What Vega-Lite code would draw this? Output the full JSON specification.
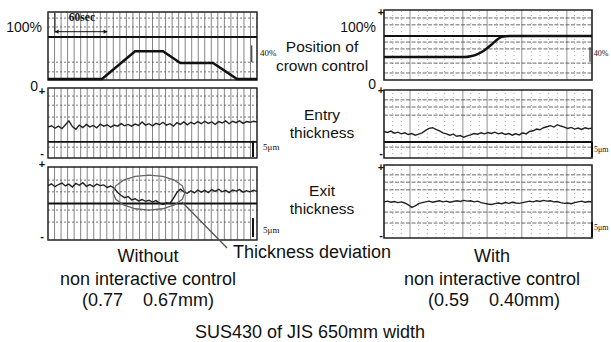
{
"$schema": "https://vega.github.io/schema/vega-lite/v6.json",
"width": 611, "height": 342, "autosize": {"type": "none"}, "padding": 0,
"background": "white",
"config": {"view": {"stroke": null}, "font": "Liberation Sans", "text": {"font": "Liberation Sans", "color": "#111"}},
"data": {"values": [{}]},
"datasets": {
"vL": [{"t":0},{"t":7.5},{"t":15},{"t":22.5},{"t":30},{"t":37.5},{"t":45},{"t":52.5},{"t":60},{"t":67.5},{"t":75},{"t":82.5},{"t":90},{"t":97.5},{"t":105},{"t":112.5},{"t":120},{"t":127.5},{"t":135},{"t":142.5},{"t":150},{"t":157.5},{"t":165},{"t":172.5},{"t":180},{"t":187.5},{"t":195},{"t":202.5},{"t":210},{"t":217.5},{"t":225},{"t":232.5},{"t":240}],
"vR": [{"t":30},{"t":91},{"t":119},{"t":159},{"t":211}],
"vRd": [{"t":10},{"t":20},{"t":40},{"t":50},{"t":60},{"t":70},{"t":80},{"t":100},{"t":110},{"t":130},{"t":140},{"t":150},{"t":170},{"t":180},{"t":190},{"t":200},{"t":220},{"t":230}],
"hL1": [{"v":145},{"v":124},{"v":40},{"v":17}],
"hL2": [{"v":7.7},{"v":5.1},{"v":1.7},{"v":-6.9}],
"hL3": [{"v":6.4},{"v":3.2},{"v":-1.8},{"v":-5.1}],
"hR1": [{"v":142},{"v":126},{"v":86},{"v":70},{"v":37},{"v":14}],
"hR2": [{"v":7.1},{"v":5},{"v":2.6},{"v":-6.8}],
"hR3": [{"v":7.3},{"v":5.3},{"v":3.2},{"v":-2.9},{"v":-5.9}],
"posL": [{"t":0,"v":0},{"t":62,"v":0},{"t":100,"v":66},{"t":132,"v":66},{"t":152,"v":38},{"t":189.5,"v":38},{"t":217,"v":0},{"t":240,"v":0}],
"posR": [{"t":0,"v":51},{"t":93,"v":51},{"t":100,"v":53},{"t":108,"v":58},{"t":116,"v":67},{"t":124,"v":80},{"t":130,"v":91},{"t":136,"v":98},{"t":145,"v":100},{"t":240,"v":100}],
"entryL": [{"t":0,"v":-1.2},{"t":4,"v":-0.8},{"t":8,"v":-1.5},{"t":12,"v":-0.9},{"t":16,"v":-1.6},{"t":20,"v":-0.5},{"t":24,"v":0.6},{"t":28,"v":-1.0},{"t":32,"v":-1.8},{"t":36,"v":-0.6},{"t":40,"v":-1.3},{"t":44,"v":-0.4},{"t":48,"v":-1.1},{"t":52,"v":-0.7},{"t":56,"v":-1.4},{"t":60,"v":-0.3},{"t":64,"v":-0.9},{"t":68,"v":-0.5},{"t":72,"v":-1.2},{"t":76,"v":-0.6},{"t":80,"v":-0.9},{"t":84,"v":-0.2},{"t":88,"v":-0.8},{"t":92,"v":-0.4},{"t":96,"v":-0.9},{"t":100,"v":-0.3},{"t":104,"v":-0.7},{"t":108,"v":0.3},{"t":112,"v":-0.6},{"t":116,"v":-0.2},{"t":120,"v":-0.8},{"t":124,"v":-0.1},{"t":128,"v":-0.5},{"t":132,"v":0.2},{"t":136,"v":-0.6},{"t":140,"v":-0.2},{"t":144,"v":-0.9},{"t":148,"v":0.1},{"t":152,"v":-0.4},{"t":156,"v":0.3},{"t":160,"v":-0.5},{"t":164,"v":0.2},{"t":168,"v":-0.3},{"t":172,"v":0.4},{"t":176,"v":-0.2},{"t":180,"v":0.5},{"t":184,"v":-0.1},{"t":188,"v":0.3},{"t":192,"v":-0.4},{"t":196,"v":0.4},{"t":200,"v":0.0},{"t":204,"v":0.6},{"t":208,"v":-0.2},{"t":212,"v":0.5},{"t":216,"v":0.1},{"t":220,"v":0.6},{"t":224,"v":-0.1},{"t":228,"v":0.4},{"t":232,"v":0.2},{"t":236,"v":0.5},{"t":240,"v":0.3}],
"exitL": [{"t":0,"v":4.9},{"t":4,"v":5.4},{"t":8,"v":4.6},{"t":12,"v":5.2},{"t":16,"v":5.6},{"t":20,"v":4.8},{"t":24,"v":5.3},{"t":28,"v":4.5},{"t":32,"v":5.5},{"t":36,"v":5.0},{"t":40,"v":5.7},{"t":44,"v":4.7},{"t":48,"v":5.2},{"t":52,"v":4.6},{"t":56,"v":5.3},{"t":60,"v":4.9},{"t":64,"v":5.1},{"t":68,"v":4.4},{"t":72,"v":4.8},{"t":76,"v":4.2},{"t":80,"v":3.0},{"t":84,"v":2.2},{"t":88,"v":1.6},{"t":92,"v":1.9},{"t":96,"v":1.0},{"t":100,"v":1.3},{"t":104,"v":0.7},{"t":108,"v":1.1},{"t":112,"v":0.6},{"t":116,"v":0.9},{"t":120,"v":0.4},{"t":124,"v":0.8},{"t":128,"v":0.1},{"t":132,"v":-0.3},{"t":136,"v":0.2},{"t":140,"v":0.0},{"t":144,"v":1.4},{"t":148,"v":3.0},{"t":152,"v":3.9},{"t":156,"v":3.2},{"t":160,"v":2.8},{"t":164,"v":3.5},{"t":168,"v":2.9},{"t":172,"v":3.7},{"t":176,"v":3.1},{"t":180,"v":3.6},{"t":184,"v":3.0},{"t":188,"v":3.8},{"t":192,"v":3.3},{"t":196,"v":3.9},{"t":200,"v":3.2},{"t":204,"v":3.6},{"t":208,"v":3.0},{"t":212,"v":3.7},{"t":216,"v":3.4},{"t":220,"v":3.8},{"t":224,"v":3.1},{"t":228,"v":3.5},{"t":232,"v":3.2},{"t":236,"v":3.6},{"t":240,"v":3.3}],
"entryR": [{"t":0,"v":-2.2},{"t":4,"v":-2.5},{"t":8,"v":-2.1},{"t":12,"v":-2.7},{"t":16,"v":-2.4},{"t":20,"v":-2.9},{"t":24,"v":-2.6},{"t":28,"v":-3.1},{"t":32,"v":-2.8},{"t":36,"v":-3.3},{"t":40,"v":-3.0},{"t":44,"v":-2.6},{"t":48,"v":-1.9},{"t":52,"v":-1.3},{"t":56,"v":-1.1},{"t":60,"v":-1.6},{"t":64,"v":-2.0},{"t":68,"v":-2.6},{"t":72,"v":-2.9},{"t":76,"v":-3.3},{"t":80,"v":-3.0},{"t":84,"v":-3.6},{"t":88,"v":-3.4},{"t":92,"v":-3.9},{"t":96,"v":-3.5},{"t":100,"v":-3.2},{"t":104,"v":-2.8},{"t":108,"v":-3.0},{"t":112,"v":-2.6},{"t":116,"v":-2.9},{"t":120,"v":-2.5},{"t":124,"v":-2.8},{"t":128,"v":-2.4},{"t":132,"v":-2.9},{"t":136,"v":-2.6},{"t":140,"v":-3.1},{"t":144,"v":-2.8},{"t":148,"v":-3.3},{"t":152,"v":-2.9},{"t":156,"v":-3.2},{"t":160,"v":-2.6},{"t":164,"v":-2.9},{"t":168,"v":-2.2},{"t":172,"v":-2.0},{"t":176,"v":-1.5},{"t":180,"v":-1.7},{"t":184,"v":-1.1},{"t":188,"v":-0.8},{"t":192,"v":-0.5},{"t":196,"v":-0.9},{"t":200,"v":-0.2},{"t":204,"v":-0.6},{"t":208,"v":-0.9},{"t":212,"v":-1.3},{"t":216,"v":-1.0},{"t":220,"v":-1.5},{"t":224,"v":-1.2},{"t":228,"v":-1.6},{"t":232,"v":-1.1},{"t":236,"v":-1.4},{"t":240,"v":-1.2}],
"exitR": [{"t":0,"v":-0.1},{"t":4,"v":0.1},{"t":8,"v":-0.2},{"t":12,"v":0.0},{"t":16,"v":-0.3},{"t":20,"v":-0.1},{"t":24,"v":-0.4},{"t":28,"v":-0.9},{"t":32,"v":-1.6},{"t":36,"v":-1.2},{"t":40,"v":-0.6},{"t":44,"v":-0.3},{"t":48,"v":-0.1},{"t":52,"v":0.1},{"t":56,"v":-0.2},{"t":60,"v":0.0},{"t":64,"v":0.2},{"t":68,"v":-0.1},{"t":72,"v":0.1},{"t":76,"v":-0.2},{"t":80,"v":0.0},{"t":84,"v":0.2},{"t":88,"v":0.0},{"t":92,"v":0.3},{"t":96,"v":0.1},{"t":100,"v":0.2},{"t":104,"v":-0.1},{"t":108,"v":0.1},{"t":112,"v":-0.3},{"t":116,"v":-0.5},{"t":120,"v":-0.7},{"t":124,"v":-0.8},{"t":128,"v":-0.6},{"t":132,"v":-0.4},{"t":136,"v":-0.6},{"t":140,"v":-0.3},{"t":144,"v":-0.5},{"t":148,"v":-0.2},{"t":152,"v":-0.4},{"t":156,"v":-0.5},{"t":160,"v":-0.3},{"t":164,"v":-0.1},{"t":168,"v":0.1},{"t":172,"v":-0.1},{"t":176,"v":0.2},{"t":180,"v":0.0},{"t":184,"v":0.3},{"t":188,"v":0.1},{"t":192,"v":0.2},{"t":196,"v":-0.1},{"t":200,"v":0.0},{"t":204,"v":-0.3},{"t":208,"v":-0.5},{"t":212,"v":-0.4},{"t":216,"v":-0.6},{"t":220,"v":-0.3},{"t":224,"v":-0.1},{"t":228,"v":0.1},{"t":232,"v":-0.2},{"t":236,"v":0.0},{"t":240,"v":-0.1}],
"ellipse": [{"i":0,"t":157.3,"v":3.0},{"i":1,"t":154.2,"v":4.84},{"i":2,"t":145.2,"v":6.39},{"i":3,"t":131.8,"v":7.44},{"i":4,"t":116,"v":7.8},{"i":5,"t":100.2,"v":7.44},{"i":6,"t":86.8,"v":6.39},{"i":7,"t":77.8,"v":4.84},{"i":8,"t":74.7,"v":3.0},{"i":9,"t":77.8,"v":1.16},{"i":10,"t":86.8,"v":-0.39},{"i":11,"t":100.2,"v":-1.44},{"i":12,"t":116,"v":-1.8},{"i":13,"t":131.8,"v":-1.44},{"i":14,"t":145.2,"v":-0.39},{"i":15,"t":154.2,"v":1.16},{"i":16,"t":157.3,"v":3.0}]
},
"layer": [
{"layer": [
 {"data": {"name": "vL"}, "mark": {"type": "rule", "color": "#666", "strokeWidth": 0.8}, "encoding": {"x": {"field": "t", "type": "quantitative", "scale": {"domain":[0,240],"range":[48,257],"nice":false,"zero":false}, "axis": null}, "y": {"datum": -2.4, "scale": {"domain":[-2.4,159.5],"range":[80,12],"nice":false,"zero":false}, "axis": null}, "y2": {"datum": 159.5}}},
 {"data": {"name": "hL1"}, "mark": {"type": "rule", "color": "#555", "strokeWidth": 0.8, "strokeDash": [2,2]}, "encoding": {"x": {"datum": 0, "scale": {"domain":[0,240],"range":[48,257],"nice":false,"zero":false}, "axis": null}, "x2": {"datum": 240}, "y": {"field": "v", "type": "quantitative", "scale": {"domain":[-2.4,159.5],"range":[80,12],"nice":false,"zero":false}, "axis": null}}},
 {"mark": {"type": "rule", "color": "#111", "strokeWidth": 2}, "encoding": {"x": {"datum": 0, "scale": {"domain":[0,240],"range":[48,257],"nice":false,"zero":false}, "axis": null}, "x2": {"datum": 240}, "y": {"datum": 100, "scale": {"domain":[-2.4,159.5],"range":[80,12],"nice":false,"zero":false}, "axis": null}}},
 {"mark": {"type": "rect", "fillOpacity": 0, "stroke": "#222", "strokeWidth": 1.3}, "encoding": {"x": {"datum": 0, "scale": {"domain":[0,240],"range":[48,257],"nice":false,"zero":false}, "axis": null}, "x2": {"datum": 240}, "y": {"datum": -2.4, "scale": {"domain":[-2.4,159.5],"range":[80,12],"nice":false,"zero":false}, "axis": null}, "y2": {"datum": 159.5}}},
 {"data": {"name": "posL"}, "mark": {"type": "line", "color": "#111", "strokeWidth": 2.5}, "encoding": {"x": {"field": "t", "type": "quantitative", "scale": {"domain":[0,240],"range":[48,257],"nice":false,"zero":false}, "axis": null}, "y": {"field": "v", "type": "quantitative", "scale": {"domain":[-2.4,159.5],"range":[80,12],"nice":false,"zero":false}, "axis": null}}},
 {"mark": {"type": "rule", "color": "#111", "strokeWidth": 1}, "encoding": {"x": {"datum": 8, "scale": {"domain":[0,240],"range":[48,257],"nice":false,"zero":false}, "axis": null}, "y": {"datum": 110, "scale": {"domain":[-2.4,159.5],"range":[80,12],"nice":false,"zero":false}, "axis": null}, "y2": {"datum": 157}}},
 {"mark": {"type": "rule", "color": "#111", "strokeWidth": 1}, "encoding": {"x": {"datum": 8, "scale": {"domain":[0,240],"range":[48,257],"nice":false,"zero":false}, "axis": null}, "x2": {"datum": 68}, "y": {"datum": 112.6, "scale": {"domain":[-2.4,159.5],"range":[80,12],"nice":false,"zero":false}, "axis": null}}},
 {"mark": {"type": "point", "shape": "triangle-left", "filled": true, "color": "#111", "size": 18, "opacity": 1}, "encoding": {"x": {"datum": 10, "scale": {"domain":[0,240],"range":[48,257],"nice":false,"zero":false}, "axis": null}, "y": {"datum": 112.6, "scale": {"domain":[-2.4,159.5],"range":[80,12],"nice":false,"zero":false}, "axis": null}}},
 {"mark": {"type": "point", "shape": "triangle-right", "filled": true, "color": "#111", "size": 18, "opacity": 1}, "encoding": {"x": {"datum": 66, "scale": {"domain":[0,240],"range":[48,257],"nice":false,"zero":false}, "axis": null}, "y": {"datum": 112.6, "scale": {"domain":[-2.4,159.5],"range":[80,12],"nice":false,"zero":false}, "axis": null}}},
 {"mark": {"type": "text", "font": "Liberation Serif", "fontSize": 11.5, "fontWeight": "bold", "align": "center", "baseline": "middle"}, "encoding": {"x": {"datum": 39, "scale": {"domain":[0,240],"range":[48,257],"nice":false,"zero":false}, "axis": null}, "y": {"datum": 145, "scale": {"domain":[-2.4,159.5],"range":[80,12],"nice":false,"zero":false}, "axis": null}, "text": {"value": "60sec"}}},
 {"mark": {"type": "text", "fontSize": 14, "align": "right", "baseline": "middle"}, "encoding": {"x": {"datum": -6.9, "scale": {"domain":[0,240],"range":[48,257],"nice":false,"zero":false}, "axis": null}, "y": {"datum": 121.4, "scale": {"domain":[-2.4,159.5],"range":[80,12],"nice":false,"zero":false}, "axis": null}, "text": {"value": "100%"}}},
 {"mark": {"type": "text", "fontSize": 14, "align": "center", "baseline": "middle"}, "encoding": {"x": {"datum": -16, "scale": {"domain":[0,240],"range":[48,257],"nice":false,"zero":false}, "axis": null}, "y": {"datum": -19, "scale": {"domain":[-2.4,159.5],"range":[80,12],"nice":false,"zero":false}, "axis": null}, "text": {"value": "0"}}},
 {"mark": {"type": "rule", "color": "#111", "strokeWidth": 1}, "encoding": {"x": {"datum": 234, "scale": {"domain":[0,240],"range":[48,257],"nice":false,"zero":false}, "axis": null}, "y": {"datum": 40, "scale": {"domain":[-2.4,159.5],"range":[80,12],"nice":false,"zero":false}, "axis": null}, "y2": {"datum": 80}}},
 {"mark": {"type": "text", "font": "Liberation Serif", "fontSize": 9, "align": "left", "baseline": "middle"}, "encoding": {"x": {"datum": 243.4, "scale": {"domain":[0,240],"range":[48,257],"nice":false,"zero":false}, "axis": null}, "y": {"datum": 62, "scale": {"domain":[-2.4,159.5],"range":[80,12],"nice":false,"zero":false}, "axis": null}, "text": {"value": "40%"}}}
]},
{"layer": [
 {"data": {"name": "vL"}, "mark": {"type": "rule", "color": "#666", "strokeWidth": 0.8}, "encoding": {"x": {"field": "t", "type": "quantitative", "scale": {"domain":[0,240],"range":[48,257],"nice":false,"zero":false}, "axis": null}, "y": {"datum": -10, "scale": {"domain":[-10,10],"range":[158,88],"nice":false,"zero":false}, "axis": null}, "y2": {"datum": 10}}},
 {"data": {"name": "hL2"}, "mark": {"type": "rule", "color": "#555", "strokeWidth": 0.8, "strokeDash": [2,2]}, "encoding": {"x": {"datum": 0, "scale": {"domain":[0,240],"range":[48,257],"nice":false,"zero":false}, "axis": null}, "x2": {"datum": 240}, "y": {"field": "v", "type": "quantitative", "scale": {"domain":[-10,10],"range":[158,88],"nice":false,"zero":false}, "axis": null}}},
 {"mark": {"type": "rule", "color": "#111", "strokeWidth": 1.8}, "encoding": {"x": {"datum": 0, "scale": {"domain":[0,240],"range":[48,257],"nice":false,"zero":false}, "axis": null}, "x2": {"datum": 240}, "y": {"datum": -5.4, "scale": {"domain":[-10,10],"range":[158,88],"nice":false,"zero":false}, "axis": null}}},
 {"mark": {"type": "rect", "fillOpacity": 0, "stroke": "#222", "strokeWidth": 1.3}, "encoding": {"x": {"datum": 0, "scale": {"domain":[0,240],"range":[48,257],"nice":false,"zero":false}, "axis": null}, "x2": {"datum": 240}, "y": {"datum": -10, "scale": {"domain":[-10,10],"range":[158,88],"nice":false,"zero":false}, "axis": null}, "y2": {"datum": 10}}},
 {"data": {"name": "entryL"}, "mark": {"type": "line", "color": "#222", "strokeWidth": 1.4}, "encoding": {"x": {"field": "t", "type": "quantitative", "scale": {"domain":[0,240],"range":[48,257],"nice":false,"zero":false}, "axis": null}, "y": {"field": "v", "type": "quantitative", "scale": {"domain":[-10,10],"range":[158,88],"nice":false,"zero":false}, "axis": null}}},
 {"mark": {"type": "text", "fontSize": 11, "fontWeight": "bold", "align": "center", "baseline": "middle"}, "encoding": {"x": {"datum": -6.9, "scale": {"domain":[0,240],"range":[48,257],"nice":false,"zero":false}, "axis": null}, "y": {"datum": 8.9, "scale": {"domain":[-10,10],"range":[158,88],"nice":false,"zero":false}, "axis": null}, "text": {"value": "+"}}},
 {"mark": {"type": "text", "fontSize": 11, "fontWeight": "bold", "align": "center", "baseline": "middle"}, "encoding": {"x": {"datum": -6.9, "scale": {"domain":[0,240],"range":[48,257],"nice":false,"zero":false}, "axis": null}, "y": {"datum": -8.9, "scale": {"domain":[-10,10],"range":[158,88],"nice":false,"zero":false}, "axis": null}, "text": {"value": "-"}}},
 {"mark": {"type": "rule", "color": "#111", "strokeWidth": 2}, "encoding": {"x": {"datum": 235.4, "scale": {"domain":[0,240],"range":[48,257],"nice":false,"zero":false}, "axis": null}, "y": {"datum": -5.1, "scale": {"domain":[-10,10],"range":[158,88],"nice":false,"zero":false}, "axis": null}, "y2": {"datum": -9.7}}},
 {"mark": {"type": "text", "font": "Liberation Serif", "fontSize": 9, "align": "left", "baseline": "middle"}, "encoding": {"x": {"datum": 247, "scale": {"domain":[0,240],"range":[48,257],"nice":false,"zero":false}, "axis": null}, "y": {"datum": -6.9, "scale": {"domain":[-10,10],"range":[158,88],"nice":false,"zero":false}, "axis": null}, "text": {"value": "5μm"}}}
]},
{"layer": [
 {"data": {"name": "vL"}, "mark": {"type": "rule", "color": "#666", "strokeWidth": 0.8}, "encoding": {"x": {"field": "t", "type": "quantitative", "scale": {"domain":[0,240],"range":[48,257],"nice":false,"zero":false}, "axis": null}, "y": {"datum": -10, "scale": {"domain":[-10,10],"range":[240,167],"nice":false,"zero":false}, "axis": null}, "y2": {"datum": 10}}},
 {"data": {"name": "hL3"}, "mark": {"type": "rule", "color": "#555", "strokeWidth": 0.8, "strokeDash": [2,2]}, "encoding": {"x": {"datum": 0, "scale": {"domain":[0,240],"range":[48,257],"nice":false,"zero":false}, "axis": null}, "x2": {"datum": 240}, "y": {"field": "v", "type": "quantitative", "scale": {"domain":[-10,10],"range":[240,167],"nice":false,"zero":false}, "axis": null}}},
 {"mark": {"type": "rule", "color": "#111", "strokeWidth": 1.8}, "encoding": {"x": {"datum": 0, "scale": {"domain":[0,240],"range":[48,257],"nice":false,"zero":false}, "axis": null}, "x2": {"datum": 240}, "y": {"datum": 0, "scale": {"domain":[-10,10],"range":[240,167],"nice":false,"zero":false}, "axis": null}}},
 {"mark": {"type": "rect", "fillOpacity": 0, "stroke": "#222", "strokeWidth": 1.3}, "encoding": {"x": {"datum": 0, "scale": {"domain":[0,240],"range":[48,257],"nice":false,"zero":false}, "axis": null}, "x2": {"datum": 240}, "y": {"datum": -10, "scale": {"domain":[-10,10],"range":[240,167],"nice":false,"zero":false}, "axis": null}, "y2": {"datum": 10}}},
 {"data": {"name": "exitL"}, "mark": {"type": "line", "color": "#222", "strokeWidth": 1.4}, "encoding": {"x": {"field": "t", "type": "quantitative", "scale": {"domain":[0,240],"range":[48,257],"nice":false,"zero":false}, "axis": null}, "y": {"field": "v", "type": "quantitative", "scale": {"domain":[-10,10],"range":[240,167],"nice":false,"zero":false}, "axis": null}}},
 {"data": {"name": "ellipse"}, "mark": {"type": "line", "color": "#666", "strokeWidth": 1.3}, "encoding": {"order": {"field": "i", "type": "quantitative"}, "x": {"field": "t", "type": "quantitative", "scale": {"domain":[0,240],"range":[48,257],"nice":false,"zero":false}, "axis": null}, "y": {"field": "v", "type": "quantitative", "scale": {"domain":[-10,10],"range":[240,167],"nice":false,"zero":false}, "axis": null}}},
 {"mark": {"type": "rule", "color": "#555", "strokeWidth": 1.3}, "encoding": {"x": {"datum": 153.9, "scale": {"domain":[0,240],"range":[48,257],"nice":false,"zero":false}, "axis": null}, "x2": {"datum": 205.6}, "y": {"datum": 0.4, "scale": {"domain":[-10,10],"range":[240,167],"nice":false,"zero":false}, "axis": null}, "y2": {"datum": -12.2}}},
 {"mark": {"type": "text", "fontSize": 18, "align": "left", "baseline": "middle"}, "encoding": {"x": {"datum": 212.4, "scale": {"domain":[0,240],"range":[48,257],"nice":false,"zero":false}, "axis": null}, "y": {"datum": -13.56, "scale": {"domain":[-10,10],"range":[240,167],"nice":false,"zero":false}, "axis": null}, "text": {"value": "Thickness deviation"}}},
 {"mark": {"type": "text", "fontSize": 11, "fontWeight": "bold", "align": "center", "baseline": "middle"}, "encoding": {"x": {"datum": -6.9, "scale": {"domain":[0,240],"range":[48,257],"nice":false,"zero":false}, "axis": null}, "y": {"datum": 10.5, "scale": {"domain":[-10,10],"range":[240,167],"nice":false,"zero":false}, "axis": null}, "text": {"value": "+"}}},
 {"mark": {"type": "text", "fontSize": 11, "fontWeight": "bold", "align": "center", "baseline": "middle"}, "encoding": {"x": {"datum": -6.9, "scale": {"domain":[0,240],"range":[48,257],"nice":false,"zero":false}, "axis": null}, "y": {"datum": -9.2, "scale": {"domain":[-10,10],"range":[240,167],"nice":false,"zero":false}, "axis": null}, "text": {"value": "-"}}},
 {"mark": {"type": "rule", "color": "#111", "strokeWidth": 2}, "encoding": {"x": {"datum": 235.4, "scale": {"domain":[0,240],"range":[48,257],"nice":false,"zero":false}, "axis": null}, "y": {"datum": -4, "scale": {"domain":[-10,10],"range":[240,167],"nice":false,"zero":false}, "axis": null}, "y2": {"datum": -9.2}}},
 {"mark": {"type": "text", "font": "Liberation Serif", "fontSize": 9, "align": "left", "baseline": "middle"}, "encoding": {"x": {"datum": 247, "scale": {"domain":[0,240],"range":[48,257],"nice":false,"zero":false}, "axis": null}, "y": {"datum": -7.3, "scale": {"domain":[-10,10],"range":[240,167],"nice":false,"zero":false}, "axis": null}, "text": {"value": "5μm"}}},
 {"mark": {"type": "text", "fontSize": 18, "align": "center", "baseline": "middle"}, "encoding": {"x": {"datum": 114.8, "scale": {"domain":[0,240],"range":[48,257],"nice":false,"zero":false}, "axis": null}, "y": {"datum": -14.66, "scale": {"domain":[-10,10],"range":[240,167],"nice":false,"zero":false}, "axis": null}, "text": {"value": "Without"}}},
 {"mark": {"type": "text", "fontSize": 18, "align": "center", "baseline": "middle"}, "encoding": {"x": {"datum": 114.8, "scale": {"domain":[0,240],"range":[48,257],"nice":false,"zero":false}, "axis": null}, "y": {"datum": -20.96, "scale": {"domain":[-10,10],"range":[240,167],"nice":false,"zero":false}, "axis": null}, "text": {"value": "non interactive control"}}},
 {"mark": {"type": "text", "fontSize": 18, "align": "center", "baseline": "middle"}, "encoding": {"x": {"datum": 114.8, "scale": {"domain":[0,240],"range":[48,257],"nice":false,"zero":false}, "axis": null}, "y": {"datum": -26.7, "scale": {"domain":[-10,10],"range":[240,167],"nice":false,"zero":false}, "axis": null}, "text": {"value": "(0.77\u00a0\u00a0\u00a0\u00a00.67mm)"}}},
 {"mark": {"type": "text", "fontSize": 18, "align": "center", "baseline": "middle"}, "encoding": {"x": {"datum": 300.9, "scale": {"domain":[0,240],"range":[48,257],"nice":false,"zero":false}, "axis": null}, "y": {"datum": -35.5, "scale": {"domain":[-10,10],"range":[240,167],"nice":false,"zero":false}, "axis": null}, "text": {"value": "SUS430 of JIS 650mm width"}}}
]},
{"layer": [
 {"data": {"name": "vRd"}, "mark": {"type": "rule", "color": "#999", "strokeWidth": 0.8, "strokeDash": [1,3]}, "encoding": {"x": {"field": "t", "type": "quantitative", "scale": {"domain":[0,240],"range":[384,592],"nice":false,"zero":false}, "axis": null}, "y": {"datum": -2.3, "scale": {"domain":[-2.3,160.5],"range":[80,10],"nice":false,"zero":false}, "axis": null}, "y2": {"datum": 160.5}}},
 {"data": {"name": "vR"}, "mark": {"type": "rule", "color": "#777", "strokeWidth": 0.8}, "encoding": {"x": {"field": "t", "type": "quantitative", "scale": {"domain":[0,240],"range":[384,592],"nice":false,"zero":false}, "axis": null}, "y": {"datum": -2.3, "scale": {"domain":[-2.3,160.5],"range":[80,10],"nice":false,"zero":false}, "axis": null}, "y2": {"datum": 160.5}}},
 {"data": {"name": "hR1"}, "mark": {"type": "rule", "color": "#444", "strokeWidth": 0.8, "strokeDash": [4,1.5]}, "encoding": {"x": {"datum": 0, "scale": {"domain":[0,240],"range":[384,592],"nice":false,"zero":false}, "axis": null}, "x2": {"datum": 240}, "y": {"field": "v", "type": "quantitative", "scale": {"domain":[-2.3,160.5],"range":[80,10],"nice":false,"zero":false}, "axis": null}}},
 {"mark": {"type": "rule", "color": "#111", "strokeWidth": 2}, "encoding": {"x": {"datum": 0, "scale": {"domain":[0,240],"range":[384,592],"nice":false,"zero":false}, "axis": null}, "x2": {"datum": 240}, "y": {"datum": 100, "scale": {"domain":[-2.3,160.5],"range":[80,10],"nice":false,"zero":false}, "axis": null}}},
 {"mark": {"type": "rect", "fillOpacity": 0, "stroke": "#222", "strokeWidth": 1.6}, "encoding": {"x": {"datum": 0, "scale": {"domain":[0,240],"range":[384,592],"nice":false,"zero":false}, "axis": null}, "x2": {"datum": 240}, "y": {"datum": -2.3, "scale": {"domain":[-2.3,160.5],"range":[80,10],"nice":false,"zero":false}, "axis": null}, "y2": {"datum": 160.5}}},
 {"data": {"name": "posR"}, "mark": {"type": "line", "color": "#111", "strokeWidth": 2.5, "interpolate": "monotone"}, "encoding": {"x": {"field": "t", "type": "quantitative", "scale": {"domain":[0,240],"range":[384,592],"nice":false,"zero":false}, "axis": null}, "y": {"field": "v", "type": "quantitative", "scale": {"domain":[-2.3,160.5],"range":[80,10],"nice":false,"zero":false}, "axis": null}}},
 {"mark": {"type": "text", "fontSize": 14, "align": "right", "baseline": "middle"}, "encoding": {"x": {"datum": -9.2, "scale": {"domain":[0,240],"range":[384,592],"nice":false,"zero":false}, "axis": null}, "y": {"datum": 118.6, "scale": {"domain":[-2.3,160.5],"range":[80,10],"nice":false,"zero":false}, "axis": null}, "text": {"value": "100%"}}},
 {"mark": {"type": "text", "fontSize": 14, "align": "center", "baseline": "middle"}, "encoding": {"x": {"datum": -13.8, "scale": {"domain":[0,240],"range":[384,592],"nice":false,"zero":false}, "axis": null}, "y": {"datum": -14, "scale": {"domain":[-2.3,160.5],"range":[80,10],"nice":false,"zero":false}, "axis": null}, "text": {"value": "0"}}},
 {"mark": {"type": "text", "fontSize": 11, "fontWeight": "bold", "align": "center", "baseline": "middle"}, "encoding": {"x": {"datum": -3.5, "scale": {"domain":[0,240],"range":[384,592],"nice":false,"zero":false}, "axis": null}, "y": {"datum": 153, "scale": {"domain":[-2.3,160.5],"range":[80,10],"nice":false,"zero":false}, "axis": null}, "text": {"value": "+"}}},
 {"mark": {"type": "rule", "color": "#111", "strokeWidth": 1}, "encoding": {"x": {"datum": 237.7, "scale": {"domain":[0,240],"range":[384,592],"nice":false,"zero":false}, "axis": null}, "y": {"datum": 40, "scale": {"domain":[-2.3,160.5],"range":[80,10],"nice":false,"zero":false}, "axis": null}, "y2": {"datum": 74}}},
 {"mark": {"type": "text", "font": "Liberation Serif", "fontSize": 8, "align": "left", "baseline": "middle"}, "encoding": {"x": {"datum": 242, "scale": {"domain":[0,240],"range":[384,592],"nice":false,"zero":false}, "axis": null}, "y": {"datum": 58, "scale": {"domain":[-2.3,160.5],"range":[80,10],"nice":false,"zero":false}, "axis": null}, "text": {"value": "40%"}}},
 {"mark": {"type": "text", "fontSize": 15.5, "align": "center", "baseline": "middle"}, "encoding": {"x": {"datum": -71.5, "scale": {"domain":[0,240],"range":[384,592],"nice":false,"zero":false}, "axis": null}, "y": {"datum": 74.4, "scale": {"domain":[-2.3,160.5],"range":[80,10],"nice":false,"zero":false}, "axis": null}, "text": {"value": "Position of"}}},
 {"mark": {"type": "text", "fontSize": 15.5, "align": "center", "baseline": "middle"}, "encoding": {"x": {"datum": -71.5, "scale": {"domain":[0,240],"range":[384,592],"nice":false,"zero":false}, "axis": null}, "y": {"datum": 30.2, "scale": {"domain":[-2.3,160.5],"range":[80,10],"nice":false,"zero":false}, "axis": null}, "text": {"value": "crown control"}}}
]},
{"layer": [
 {"data": {"name": "vRd"}, "mark": {"type": "rule", "color": "#999", "strokeWidth": 0.8, "strokeDash": [1,3]}, "encoding": {"x": {"field": "t", "type": "quantitative", "scale": {"domain":[0,240],"range":[384,592],"nice":false,"zero":false}, "axis": null}, "y": {"datum": -10, "scale": {"domain":[-10,10],"range":[158,90],"nice":false,"zero":false}, "axis": null}, "y2": {"datum": 10}}},
 {"data": {"name": "vR"}, "mark": {"type": "rule", "color": "#777", "strokeWidth": 0.8}, "encoding": {"x": {"field": "t", "type": "quantitative", "scale": {"domain":[0,240],"range":[384,592],"nice":false,"zero":false}, "axis": null}, "y": {"datum": -10, "scale": {"domain":[-10,10],"range":[158,90],"nice":false,"zero":false}, "axis": null}, "y2": {"datum": 10}}},
 {"data": {"name": "hR2"}, "mark": {"type": "rule", "color": "#444", "strokeWidth": 0.8, "strokeDash": [4,1.5]}, "encoding": {"x": {"datum": 0, "scale": {"domain":[0,240],"range":[384,592],"nice":false,"zero":false}, "axis": null}, "x2": {"datum": 240}, "y": {"field": "v", "type": "quantitative", "scale": {"domain":[-10,10],"range":[158,90],"nice":false,"zero":false}, "axis": null}}},
 {"mark": {"type": "rule", "color": "#111", "strokeWidth": 1.8}, "encoding": {"x": {"datum": 0, "scale": {"domain":[0,240],"range":[384,592],"nice":false,"zero":false}, "axis": null}, "x2": {"datum": 240}, "y": {"datum": -5.3, "scale": {"domain":[-10,10],"range":[158,90],"nice":false,"zero":false}, "axis": null}}},
 {"mark": {"type": "rect", "fillOpacity": 0, "stroke": "#222", "strokeWidth": 1.6}, "encoding": {"x": {"datum": 0, "scale": {"domain":[0,240],"range":[384,592],"nice":false,"zero":false}, "axis": null}, "x2": {"datum": 240}, "y": {"datum": -10, "scale": {"domain":[-10,10],"range":[158,90],"nice":false,"zero":false}, "axis": null}, "y2": {"datum": 10}}},
 {"data": {"name": "entryR"}, "mark": {"type": "line", "color": "#222", "strokeWidth": 1.4}, "encoding": {"x": {"field": "t", "type": "quantitative", "scale": {"domain":[0,240],"range":[384,592],"nice":false,"zero":false}, "axis": null}, "y": {"field": "v", "type": "quantitative", "scale": {"domain":[-10,10],"range":[158,90],"nice":false,"zero":false}, "axis": null}}},
 {"mark": {"type": "text", "fontSize": 11, "fontWeight": "bold", "align": "center", "baseline": "middle"}, "encoding": {"x": {"datum": -3.5, "scale": {"domain":[0,240],"range":[384,592],"nice":false,"zero":false}, "axis": null}, "y": {"datum": 9.7, "scale": {"domain":[-10,10],"range":[158,90],"nice":false,"zero":false}, "axis": null}, "text": {"value": "+"}}},
 {"mark": {"type": "text", "fontSize": 11, "fontWeight": "bold", "align": "center", "baseline": "middle"}, "encoding": {"x": {"datum": -3.5, "scale": {"domain":[0,240],"range":[384,592],"nice":false,"zero":false}, "axis": null}, "y": {"datum": -8.8, "scale": {"domain":[-10,10],"range":[158,90],"nice":false,"zero":false}, "axis": null}, "text": {"value": "-"}}},
 {"mark": {"type": "rule", "color": "#111", "strokeWidth": 2}, "encoding": {"x": {"datum": 240, "scale": {"domain":[0,240],"range":[384,592],"nice":false,"zero":false}, "axis": null}, "y": {"datum": -5.3, "scale": {"domain":[-10,10],"range":[158,90],"nice":false,"zero":false}, "axis": null}, "y2": {"datum": -9.7}}},
 {"mark": {"type": "text", "font": "Liberation Serif", "fontSize": 8, "align": "left", "baseline": "middle"}, "encoding": {"x": {"datum": 242.3, "scale": {"domain":[0,240],"range":[384,592],"nice":false,"zero":false}, "axis": null}, "y": {"datum": -7.6, "scale": {"domain":[-10,10],"range":[158,90],"nice":false,"zero":false}, "axis": null}, "text": {"value": "5μm"}}},
 {"mark": {"type": "text", "fontSize": 15.5, "align": "center", "baseline": "middle"}, "encoding": {"x": {"datum": -71.5, "scale": {"domain":[0,240],"range":[384,592],"nice":false,"zero":false}, "axis": null}, "y": {"datum": 2.6, "scale": {"domain":[-10,10],"range":[158,90],"nice":false,"zero":false}, "axis": null}, "text": {"value": "Entry"}}},
 {"mark": {"type": "text", "fontSize": 15.5, "align": "center", "baseline": "middle"}, "encoding": {"x": {"datum": -71.5, "scale": {"domain":[0,240],"range":[384,592],"nice":false,"zero":false}, "axis": null}, "y": {"datum": -2.6, "scale": {"domain":[-10,10],"range":[158,90],"nice":false,"zero":false}, "axis": null}, "text": {"value": "thickness"}}}
]},
{"layer": [
 {"data": {"name": "vRd"}, "mark": {"type": "rule", "color": "#999", "strokeWidth": 0.8, "strokeDash": [1,3]}, "encoding": {"x": {"field": "t", "type": "quantitative", "scale": {"domain":[0,240],"range":[384,592],"nice":false,"zero":false}, "axis": null}, "y": {"datum": -10, "scale": {"domain":[-10,10],"range":[238,165],"nice":false,"zero":false}, "axis": null}, "y2": {"datum": 10}}},
 {"data": {"name": "vR"}, "mark": {"type": "rule", "color": "#777", "strokeWidth": 0.8}, "encoding": {"x": {"field": "t", "type": "quantitative", "scale": {"domain":[0,240],"range":[384,592],"nice":false,"zero":false}, "axis": null}, "y": {"datum": -10, "scale": {"domain":[-10,10],"range":[238,165],"nice":false,"zero":false}, "axis": null}, "y2": {"datum": 10}}},
 {"data": {"name": "hR3"}, "mark": {"type": "rule", "color": "#444", "strokeWidth": 0.8, "strokeDash": [4,1.5]}, "encoding": {"x": {"datum": 0, "scale": {"domain":[0,240],"range":[384,592],"nice":false,"zero":false}, "axis": null}, "x2": {"datum": 240}, "y": {"field": "v", "type": "quantitative", "scale": {"domain":[-10,10],"range":[238,165],"nice":false,"zero":false}, "axis": null}}},
 {"mark": {"type": "rect", "fillOpacity": 0, "stroke": "#222", "strokeWidth": 1.6}, "encoding": {"x": {"datum": 0, "scale": {"domain":[0,240],"range":[384,592],"nice":false,"zero":false}, "axis": null}, "x2": {"datum": 240}, "y": {"datum": -10, "scale": {"domain":[-10,10],"range":[238,165],"nice":false,"zero":false}, "axis": null}, "y2": {"datum": 10}}},
 {"data": {"name": "exitR"}, "mark": {"type": "line", "color": "#222", "strokeWidth": 1.4}, "encoding": {"x": {"field": "t", "type": "quantitative", "scale": {"domain":[0,240],"range":[384,592],"nice":false,"zero":false}, "axis": null}, "y": {"field": "v", "type": "quantitative", "scale": {"domain":[-10,10],"range":[238,165],"nice":false,"zero":false}, "axis": null}}},
 {"mark": {"type": "text", "fontSize": 11, "fontWeight": "bold", "align": "center", "baseline": "middle"}, "encoding": {"x": {"datum": -3.5, "scale": {"domain":[0,240],"range":[384,592],"nice":false,"zero":false}, "axis": null}, "y": {"datum": 9.2, "scale": {"domain":[-10,10],"range":[238,165],"nice":false,"zero":false}, "axis": null}, "text": {"value": "+"}}},
 {"mark": {"type": "text", "fontSize": 11, "fontWeight": "bold", "align": "center", "baseline": "middle"}, "encoding": {"x": {"datum": -3.5, "scale": {"domain":[0,240],"range":[384,592],"nice":false,"zero":false}, "axis": null}, "y": {"datum": -9.5, "scale": {"domain":[-10,10],"range":[238,165],"nice":false,"zero":false}, "axis": null}, "text": {"value": "-"}}},
 {"mark": {"type": "rule", "color": "#111", "strokeWidth": 2}, "encoding": {"x": {"datum": 240, "scale": {"domain":[0,240],"range":[384,592],"nice":false,"zero":false}, "axis": null}, "y": {"datum": -5.6, "scale": {"domain":[-10,10],"range":[238,165],"nice":false,"zero":false}, "axis": null}, "y2": {"datum": -9.7}}},
 {"mark": {"type": "text", "font": "Liberation Serif", "fontSize": 8, "align": "left", "baseline": "middle"}, "encoding": {"x": {"datum": 242.3, "scale": {"domain":[0,240],"range":[384,592],"nice":false,"zero":false}, "axis": null}, "y": {"datum": -7.3, "scale": {"domain":[-10,10],"range":[238,165],"nice":false,"zero":false}, "axis": null}, "text": {"value": "5μm"}}},
 {"mark": {"type": "text", "fontSize": 15.5, "align": "center", "baseline": "middle"}, "encoding": {"x": {"datum": -71.5, "scale": {"domain":[0,240],"range":[384,592],"nice":false,"zero":false}, "axis": null}, "y": {"datum": 2.9, "scale": {"domain":[-10,10],"range":[238,165],"nice":false,"zero":false}, "axis": null}, "text": {"value": "Exit"}}},
 {"mark": {"type": "text", "fontSize": 15.5, "align": "center", "baseline": "middle"}, "encoding": {"x": {"datum": -71.5, "scale": {"domain":[0,240],"range":[384,592],"nice":false,"zero":false}, "axis": null}, "y": {"datum": -2.05, "scale": {"domain":[-10,10],"range":[238,165],"nice":false,"zero":false}, "axis": null}, "text": {"value": "thickness"}}},
 {"mark": {"type": "text", "fontSize": 18, "align": "center", "baseline": "middle"}, "encoding": {"x": {"datum": 124.6, "scale": {"domain":[0,240],"range":[384,592],"nice":false,"zero":false}, "axis": null}, "y": {"datum": -15.2, "scale": {"domain":[-10,10],"range":[238,165],"nice":false,"zero":false}, "axis": null}, "text": {"value": "With"}}},
 {"mark": {"type": "text", "fontSize": 18, "align": "center", "baseline": "middle"}, "encoding": {"x": {"datum": 124.6, "scale": {"domain":[0,240],"range":[384,592],"nice":false,"zero":false}, "axis": null}, "y": {"datum": -21.5, "scale": {"domain":[-10,10],"range":[238,165],"nice":false,"zero":false}, "axis": null}, "text": {"value": "non interactive control"}}},
 {"mark": {"type": "text", "fontSize": 18, "align": "center", "baseline": "middle"}, "encoding": {"x": {"datum": 127, "scale": {"domain":[0,240],"range":[384,592],"nice":false,"zero":false}, "axis": null}, "y": {"datum": -27.3, "scale": {"domain":[-10,10],"range":[238,165],"nice":false,"zero":false}, "axis": null}, "text": {"value": "(0.59\u00a0\u00a0\u00a0\u00a00.40mm)"}}}
]}
],
"resolve": {"scale": {"x": "independent", "y": "independent"}}
}
